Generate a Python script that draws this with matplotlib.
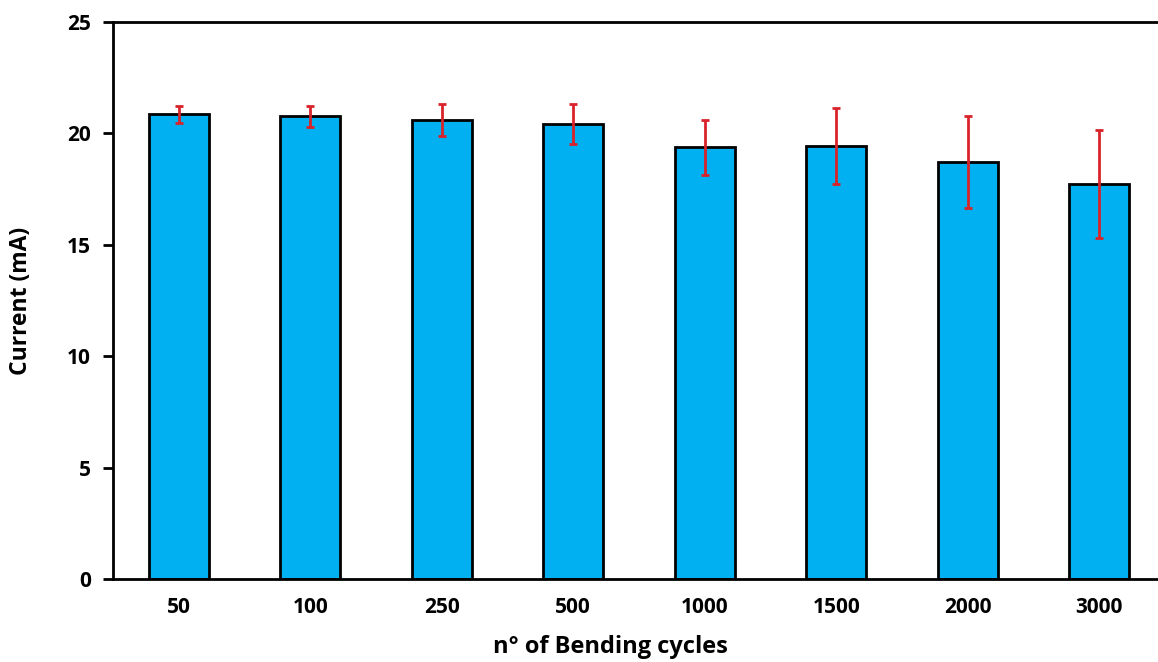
import matplotlib.pyplot as plt
import numpy as np

# values
cycles = ['50', '100', '250', '500', '1000', '1500', '2000', '3000']
current = [20.86, 20.76, 20.59, 20.42, 19.38, 19.43, 18.70, 17.73]
current_err = [0.38, 0.47, 0.71, 0.89, 1.24, 1.72, 2.07, 2.44]

plt.rcParams['font.family'] = ['Open Sans', 'DejaVu Sans']
plt.rcParams['font.weight'] = 'bold'

fig = plt.figure(figsize=(11.58, 6.62), dpi=100)
W, H = 1158., 662.
ax = fig.add_axes([113 / W, (H - 579) / H, (1165 - 113) / W, (579 - 22) / H])

x = np.arange(len(cycles))
ax.bar(x, current, width=0.46, color='#00B0F0', edgecolor='black', linewidth=2, zorder=2)
ax.errorbar(x, current, yerr=current_err, fmt='none', ecolor='#D9232A',
            elinewidth=2, capsize=3, capthick=2, zorder=3)

ax.set_xlim(-0.5, len(cycles) - 0.5)
ax.set_ylim(0, 25)
ax.set_yticks([0, 5, 10, 15, 20, 25])
ax.set_xticks(x)
ax.set_xticklabels(cycles)

for s in ['top', 'left', 'bottom']:
    ax.spines[s].set_linewidth(2)
ax.spines['right'].set_visible(False)
ax.tick_params(axis='y', direction='out', length=7, width=2, labelsize=15, pad=9)
ax.tick_params(axis='x', length=0, labelsize=15, pad=13)
for lbl in ax.get_xticklabels() + ax.get_yticklabels():
    lbl.set_fontweight('bold')

ax.set_ylabel('Current (mA)', fontsize=16.5, fontweight='bold', labelpad=24)
fig.text(610 / W, 1 - 647 / H, 'n° of Bending cycles', fontsize=17, fontweight='bold',
         ha='center', va='center')

fig.savefig('out.png', dpi=100)
